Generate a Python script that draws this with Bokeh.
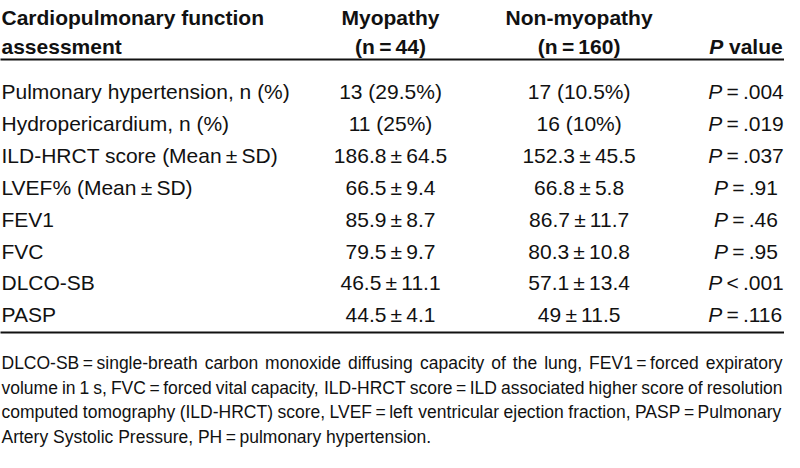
from bokeh.plotting import figure
from bokeh.models import Range1d
from bokeh.core.properties import value
from bokeh.embed import file_html
from bokeh.resources import INLINE

# ---------------- data ----------------
header_col1 = ["Cardiopulmonary function", "assessment"]
group_names = ["Myopathy", "Non-myopathy"]
group_ns = ["(n=44)", "(n=160)"]
p_header_rest = "value"

measures = ["Pulmonary hypertension, n (%)", "Hydropericardium, n (%)",
            "ILD-HRCT score (Mean±SD)", "LVEF% (Mean±SD)", "FEV1", "FVC",
            "DLCO-SB", "PASP"]
myopathy = ["13 (29.5%)", "11 (25%)", "186.8±64.5", "66.5±9.4", "85.9±8.7",
            "79.5±9.7", "46.5±11.1", "44.5±4.1"]
non_myopathy = ["17 (10.5%)", "16 (10%)", "152.3±45.5", "66.8±5.8",
                "86.7±11.7", "80.3±10.8", "57.1±13.4", "49±11.5"]
p_values = ["=.004", "=.019", "=.037", "=.91", "=.46", "=.95", "<.001", "=.116"]

footnote_lines = [
    "DLCO-SB=single-breath carbon monoxide diffusing capacity of the lung, FEV1=forced expiratory",
    "volume in 1 s, FVC=forced vital capacity, ILD-HRCT score=ILD associated higher score of resolution",
    "computed tomography (ILD-HRCT) score, LVEF=left ventricular ejection fraction, PASP=Pulmonary",
    "Artery Systolic Pressure, PH=pulmonary hypertension.",
]

# ---------------- styling ----------------
FONT = "Liberation Sans"
HEAD_FS = 21
BODY_FS = 21
NOTE_FS = 17.5
INK = "#111111"
TS = "\u2009"  # thin space around operators, as typeset in the source

W, H = 784, 452
X0, X1 = 3, 797
Y0, Y1 = 4, 464
SX = (X1 - X0) / W  # data units per pixel


def typo(s):
    for op in "=±<":
        s = s.replace(op, TS + op + TS)
    return s


# Arial / Liberation Sans advance widths (per 1000 em)
_AW = {' ': 278, '%': 889, '(': 333, ')': 333, ',': 278, '-': 333, '.': 278,
       '<': 584, '=': 584, '±': 549, TS: 200}
for c in "0123456789":
    _AW[c] = 556
_AW.update(dict(zip("ABCDEFGHIJKLMNOPQRSTUVWXYZ",
                    [667, 667, 722, 722, 667, 611, 778, 722, 278, 500, 667, 556, 833,
                     722, 778, 667, 778, 722, 667, 611, 722, 667, 944, 667, 667, 611])))
_AW.update(dict(zip("abcdefghijklmnopqrstuvwxyz",
                    [556, 556, 500, 556, 556, 278, 556, 556, 222, 222, 500, 222, 833,
                     556, 556, 556, 556, 333, 500, 278, 556, 500, 722, 500, 500, 500])))


def text_w(s, fs):
    """approximate rendered width in data units"""
    return sum(_AW.get(c, 556) for c in s) / 1000 * fs * SX


p = figure(width=W, height=H, x_range=Range1d(X0, X1), y_range=Range1d(Y1, Y0),
           output_backend="svg", toolbar_location=None, min_border=0,
           x_axis_location=None, y_axis_location=None)
p.grid.visible = False
p.outline_line_color = None
p.background_fill_color = "white"
p.border_fill_color = "white"


def put(xs, ys, texts, fs, align="left", style="normal"):
    p.text(x=xs, y=ys, text=texts, text_font=value(FONT), text_font_size=f"{fs}px",
           text_align=align, text_baseline="alphabetic", text_color=INK,
           text_font_style=style)


COL1_X = 4
COL2_C = 398
COL3_C = 589
COL4_C = 758

# header
HB = [21, 51]
put([COL1_X, COL1_X], HB, header_col1, HEAD_FS, "left", "bold")
put([COL2_C, COL3_C], [HB[0], HB[0]], group_names, HEAD_FS, "center", "bold")
put([COL2_C, COL3_C], [HB[1], HB[1]], [typo(s) for s in group_ns], HEAD_FS, "center", "bold")
BOLD = 1.1  # bold glyphs are a little wider
wP = text_w("P", HEAD_FS) * BOLD
wsp = text_w(" ", HEAD_FS)
wtot = wP + wsp + text_w(p_header_rest, HEAD_FS) * BOLD
a = COL4_C - wtot / 2 + wP
put([a], [HB[1]], ["P"], HEAD_FS, "right", "bold italic")
put([a + wsp], [HB[1]], [p_header_rest], HEAD_FS, "left", "bold")

# rules
p.segment(x0=[0, 0], y0=[64, 342], x1=[800, 800], y1=[64, 342],
          line_width=2, line_color=INK)

# body
ROW0, ROWH = 97, 32.4
ys = [ROW0 + ROWH * i for i in range(len(measures))]
put([COL1_X] * len(ys), ys, [typo(s) for s in measures], BODY_FS, "left")
put([COL2_C] * len(ys), ys, [typo(s) for s in myopathy], BODY_FS, "center")
put([COL3_C] * len(ys), ys, [typo(s) for s in non_myopathy], BODY_FS, "center")
anchors = []
pv_txt = [typo(s) for s in p_values]
for pv in pv_txt:
    wPi = text_w("P", BODY_FS)
    wt = wPi + text_w(pv, BODY_FS)
    anchors.append(COL4_C - wt / 2 + wPi)
put(anchors, ys, ["P"] * len(ys), BODY_FS, "right", "italic")
put(anchors, ys, pv_txt, BODY_FS, "left")

# footnote (justified lines except last)
NB0, NBH = 373, 25
fx, fy, ft = [], [], []
for i, line in enumerate(footnote_lines):
    words = [typo(wd) for wd in line.split(" ")]
    y = NB0 + NBH * i
    if i < len(footnote_lines) - 1:
        widths = [text_w(wd, NOTE_FS) for wd in words]
        gap = (X1 - X0 - 3 - sum(widths)) / (len(words) - 1)
        x = COL1_X
        for wd, ww in zip(words, widths):
            fx.append(x); fy.append(y); ft.append(wd)
            x += ww + gap
    else:
        fx.append(COL1_X); fy.append(y); ft.append(typo(line))
put(fx, fy, ft, NOTE_FS, "left")

open("out.html", "w").write(file_html(p, INLINE))
